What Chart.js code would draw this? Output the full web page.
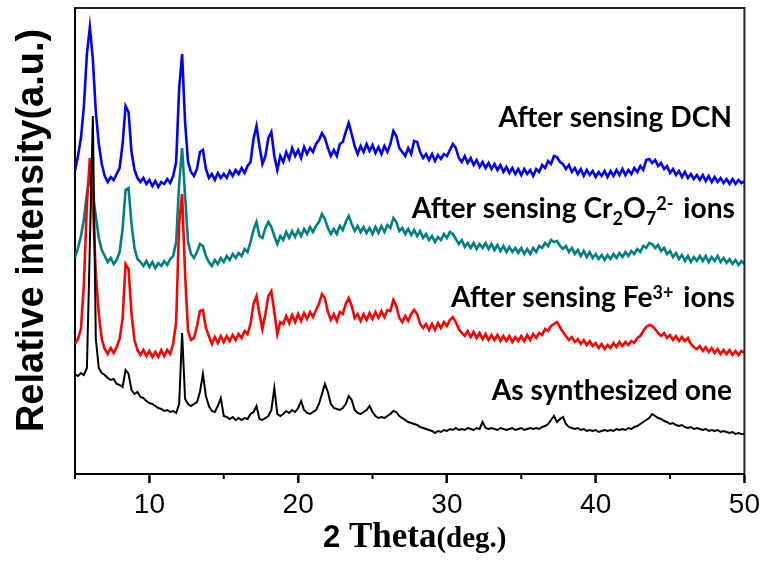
<!DOCTYPE html>
<html>
<head>
<meta charset="utf-8">
<title>XRD patterns</title>
<script src="https://cdn.jsdelivr.net/npm/chart.js@4.4.1/dist/chart.umd.min.js"></script>
<style>
  html, body { margin: 0; padding: 0; background: #fff; }
  #wrap { width: 765px; height: 564px; position: relative; }
</style>
</head>
<body>
<div id="wrap"><canvas id="xrd"></canvas></div>
<script>
// 2 theta grid (deg.)
const twoTheta = [
    5.0, 5.2, 5.4, 5.6, 5.8, 6.0, 6.2, 6.4, 6.6, 6.8,
    7.0, 7.2, 7.4, 7.6, 7.8, 8.0, 8.2, 8.4, 8.6, 8.8,
    9.0, 9.2, 9.4, 9.6, 9.8, 10.0, 10.2, 10.4, 10.6, 10.8,
    11.0, 11.2, 11.4, 11.6, 11.8, 12.0, 12.2, 12.4, 12.6, 12.8,
    13.0, 13.2, 13.4, 13.6, 13.8, 14.0, 14.2, 14.4, 14.6, 14.8,
    15.0, 15.2, 15.4, 15.6, 15.8, 16.0, 16.2, 16.4, 16.6, 16.8,
    17.0, 17.2, 17.4, 17.6, 17.8, 18.0, 18.2, 18.4, 18.6, 18.8,
    19.0, 19.2, 19.4, 19.6, 19.8, 20.0, 20.2, 20.4, 20.6, 20.8,
    21.0, 21.2, 21.4, 21.6, 21.8, 22.0, 22.2, 22.4, 22.6, 22.8,
    23.0, 23.2, 23.4, 23.6, 23.8, 24.0, 24.2, 24.4, 24.6, 24.8,
    25.0, 25.2, 25.4, 25.6, 25.8, 26.0, 26.2, 26.4, 26.6, 26.8,
    27.0, 27.2, 27.4, 27.6, 27.8, 28.0, 28.2, 28.4, 28.6, 28.8,
    29.0, 29.2, 29.4, 29.6, 29.8, 30.0, 30.2, 30.4, 30.6, 30.8,
    31.0, 31.2, 31.4, 31.6, 31.8, 32.0, 32.2, 32.4, 32.6, 32.8,
    33.0, 33.2, 33.4, 33.6, 33.8, 34.0, 34.2, 34.4, 34.6, 34.8,
    35.0, 35.2, 35.4, 35.6, 35.8, 36.0, 36.2, 36.4, 36.6, 36.8,
    37.0, 37.2, 37.4, 37.6, 37.8, 38.0, 38.2, 38.4, 38.6, 38.8,
    39.0, 39.2, 39.4, 39.6, 39.8, 40.0, 40.2, 40.4, 40.6, 40.8,
    41.0, 41.2, 41.4, 41.6, 41.8, 42.0, 42.2, 42.4, 42.6, 42.8,
    43.0, 43.2, 43.4, 43.6, 43.8, 44.0, 44.2, 44.4, 44.6, 44.8,
    45.0, 45.2, 45.4, 45.6, 45.8, 46.0, 46.2, 46.4, 46.6, 46.8,
    47.0, 47.2, 47.4, 47.6, 47.8, 48.0, 48.2, 48.4, 48.6, 48.8,
    49.0, 49.2, 49.4, 49.6, 49.8, 50.0
];

// relative intensity (a.u.), curves already offset as in the figure
const asSynthesized = [
    100, 98, 101, 99, 106, 230, 358, 135, 106, 101,
    99, 96, 94, 95, 90, 89, 87, 104, 100, 84,
    80, 82, 77, 76, 73, 71, 70, 68, 66, 65,
    63, 64, 62, 63, 61, 70, 141, 75, 70, 68,
    70, 72, 82, 100, 78, 68, 63, 62, 68, 76,
    58, 57, 55, 57, 54, 56, 54, 56, 55, 60,
    62, 68, 55, 54, 56, 58, 64, 86, 60, 58,
    60, 63, 61, 64, 62, 66, 73, 64, 61, 60,
    62, 64, 70, 80, 90, 82, 70, 66, 65, 64,
    66, 70, 78, 74, 64, 61, 60, 62, 64, 68,
    62, 58, 56, 57, 56, 58, 60, 63, 62, 58,
    56, 54, 52, 51, 50, 49, 47, 46, 45, 44,
    43, 41, 43, 42, 44, 43, 45, 44, 46, 44,
    45, 44, 46, 45, 44, 46, 45, 52, 46, 45,
    46, 45, 44, 46, 45, 44, 45, 46, 44, 45,
    46, 44, 45, 46, 45, 46, 45, 47, 48, 50,
    54, 58, 52, 55, 57, 50, 47, 46, 45, 46,
    44, 45, 43, 44, 43, 44, 42, 43, 44, 43,
    44, 43, 45, 44, 45, 44, 46, 45, 47, 48,
    50, 52, 54, 56, 60, 58, 56, 55, 53, 52,
    50, 51, 49, 48, 49, 47, 46, 47, 45, 46,
    45, 44, 45, 43, 44, 43, 44, 42, 43, 42,
    41, 42, 40, 41, 40, 40
];

const afterFe = [
    130, 135, 145, 190, 270, 316, 270, 200, 160, 135,
    125, 120, 126, 121, 127, 135, 155, 210, 205, 160,
    134, 124, 119, 124, 118, 123, 117, 122, 117, 124,
    118, 124, 120, 130, 152, 250, 280, 200, 143, 134,
    136, 148, 163, 164, 146, 138, 130, 137, 131, 138,
    132, 138, 133, 139, 134, 140, 136, 143, 140, 150,
    170, 178, 160, 145, 160, 178, 183, 162, 140, 152,
    150, 158, 151, 159, 152, 160, 153, 161, 155, 162,
    157, 164, 170, 180, 176, 162, 154, 160, 153, 162,
    160, 170, 176, 168, 156, 160, 153, 160, 154, 161,
    155, 162, 156, 163, 157, 164, 163, 174, 168, 156,
    152, 158, 153, 160, 164, 160, 150, 146, 150, 144,
    150, 144, 151, 146, 152, 148, 154, 157, 152, 145,
    141, 138, 143, 137, 142, 136, 141, 135, 140, 134,
    139, 134, 139, 133, 138, 133, 138, 132, 137, 133,
    138, 133, 139, 134, 140, 136, 141, 139, 145, 143,
    148, 150, 152, 147, 142, 138, 134, 137, 132, 135,
    130, 134, 129, 133, 128, 131, 126, 130, 125, 129,
    126, 131, 127, 132, 128, 132, 129, 133, 131, 136,
    138, 143, 147, 149, 148, 145, 141, 138, 141, 136,
    139, 134, 138, 133, 137, 133, 136, 130, 127, 125,
    128, 123, 127, 122, 126, 121, 125, 120, 124, 120,
    124, 119, 123, 119, 123, 121
];

const afterCr = [
    216, 226, 238, 255, 280, 298, 280, 258, 236, 224,
    218, 212, 216, 210, 214, 222, 245, 284, 286, 250,
    226, 215, 212, 208, 213, 207, 212, 206, 211, 208,
    213, 209, 215, 218, 232, 290, 326, 278, 232, 220,
    216, 222, 230, 228, 218, 212, 208, 214, 210, 216,
    212, 218, 214, 220, 216, 221, 218, 225, 222, 232,
    244, 252, 238, 236, 246, 252, 247, 238, 230, 238,
    234, 242, 236, 243, 237, 244, 238, 245, 240, 247,
    242, 248, 252, 260, 255, 246, 240, 245, 240, 248,
    244, 252, 258, 250, 243, 248, 242, 247, 241, 246,
    240, 247, 241, 248, 242, 249, 246, 256, 252, 243,
    246, 240, 245, 239, 244, 238, 243, 236, 240, 234,
    238, 232, 237, 234, 240, 236, 242, 240, 235, 230,
    234, 227, 231, 226, 231, 225, 230, 226, 231, 225,
    230, 224, 229, 223, 228, 222, 227, 222, 226, 221,
    226, 220, 225, 220, 226, 222, 228, 226, 231, 228,
    234, 232, 233, 228, 225, 228, 222, 226, 220, 224,
    218, 223, 217, 222, 216, 220, 215, 219, 214, 219,
    215, 220, 216, 221, 217, 222, 218, 223, 220, 225,
    222, 228, 226, 231, 230, 226, 229, 223, 226, 220,
    223, 217, 221, 215, 219, 213, 218, 212, 217, 213,
    218, 213, 218, 212, 217, 213, 218, 212, 216, 211,
    215, 210, 214, 209, 213, 210
];

const afterDCN = [
    303, 318, 336, 368, 420, 447, 415, 362, 330, 310,
    298, 292, 297, 294, 300, 306, 330, 368, 362, 322,
    304, 296, 292, 296, 290, 294, 288, 293, 287, 292,
    290, 295, 291, 298, 312, 385, 420, 352, 312, 302,
    298, 305, 322, 324, 305, 296, 300, 294, 301, 296,
    300, 296, 303, 298, 304, 300, 306, 301, 308, 312,
    335, 348, 328, 310, 318, 336, 342, 318, 304, 318,
    312, 322, 315, 326, 318, 324, 316, 327, 320, 326,
    322, 330, 334, 341, 336, 326, 318, 324, 318, 330,
    332, 342, 351, 340, 328, 320, 328, 322, 330, 323,
    329, 321, 327, 320, 328, 322, 330, 343, 338, 326,
    322, 318, 326, 320, 333, 332, 322, 316, 320, 314,
    320, 313, 319, 315, 320, 318, 324, 330, 326, 316,
    312, 318, 311, 316, 309, 314, 307, 312, 306, 311,
    305, 310, 304, 309, 302, 307, 301, 306, 300, 305,
    299, 305, 300, 304, 298, 305, 302, 309, 306, 313,
    310, 318, 317, 312, 310, 305, 309, 302, 306, 300,
    305, 298, 304, 299, 303, 297, 302, 298, 303, 297,
    303, 298, 304, 299, 305, 299, 304, 300, 306, 302,
    308, 304, 314, 315, 311, 314, 308, 311, 305, 308,
    301, 305, 299, 303, 297, 302, 296, 300, 295, 299,
    294, 299, 293, 298, 292, 297, 292, 296, 291, 295,
    290, 295, 290, 294, 291, 293
];

const seriesNames = ['As synthesized one', 'After sensing Fe\u00b3\u207a ions',
    'After sensing Cr\u2082O\u2087\u00b2\u207b ions', 'After sensing DCN'];
const seriesColors = ['#000000', '#ff0000', '#008080', '#0000ff'];

// curve labels with sub/superscripts: [text, 'sub' | 'sup' | '']
const curveLabels = [
    [['As synthesized one', '']],
    [['After sensing Fe', ''], ['3+', 'sup'], [' ions', '']],
    [['After sensing Cr', ''], ['2', 'sub'], ['O', ''], ['7', 'sub'], ['2-', 'sup'], [' ions', '']],
    [['After sensing DCN', '']]
];

const xMajorTicks = [10, 20, 30, 40, 50];
const xMinorTicks = [5, 15, 25, 35, 45];

function pairs(ys) {
    return twoTheta.map((t, i) => ({x: t, y: ys[i]}));
}

const labelBaselines = [400, 307, 218, 127];

const annotate = {
    id: 'annotate',
    afterDraw(chart) {
        const ctx = chart.ctx;
        const area = chart.chartArea;
        const xs = chart.scales.x;
        ctx.save();

        // top and right side of the frame
        ctx.strokeStyle = '#222';
        ctx.lineWidth = 2;
        ctx.beginPath();
        ctx.moveTo(area.left, area.top);
        ctx.lineTo(area.right, area.top);
        ctx.lineTo(area.right, area.bottom);
        ctx.stroke();

        // major ticks long, minor ticks short
        ctx.strokeStyle = '#000';
        xMajorTicks.forEach(v => {
            const px = xs.getPixelForValue(v);
            ctx.beginPath();
            ctx.moveTo(px, area.bottom);
            ctx.lineTo(px, area.bottom + 9);
            ctx.stroke();
        });
        xMinorTicks.forEach(v => {
            const px = xs.getPixelForValue(v);
            ctx.beginPath();
            ctx.moveTo(px, area.bottom);
            ctx.lineTo(px, area.bottom + 5);
            ctx.stroke();
        });

        // curve labels, sized so the top one spans like the original
        ctx.fillStyle = '#000';
        ctx.textBaseline = 'alphabetic';
        ctx.textAlign = 'left';
        ctx.font = 'bold 26px Lato';
        const size = 26 * 234 / ctx.measureText('After sensing DCN').width;
        const big = 'bold ' + size.toFixed(1) + 'px Lato';
        const small = 'bold ' + (size * 0.64).toFixed(1) + 'px Lato';
        curveLabels.forEach((parts, k) => {
            let total = 0;
            parts.forEach(p => {
                ctx.font = p[1] ? small : big;
                total += ctx.measureText(p[0]).width;
            });
            let x = 732 - total;
            const base = labelBaselines[k];
            parts.forEach(p => {
                ctx.font = p[1] ? small : big;
                let y = base;
                if (p[1] === 'sub') y += 7;
                if (p[1] === 'sup') y -= 8;
                ctx.fillText(p[0], x, y);
                x += ctx.measureText(p[0]).width + (p[1] === 'sup' ? 3 : 0);
            });
        });

        // x axis title: 2 Theta(deg.)
        const title = [
            ['2', 'bold 31px "Liberation Sans"'],
            [' Theta', 'bold 35px "Liberation Serif"'],
            ['(deg.)', 'bold 29px "Liberation Serif"']
        ];
        let w = 0;
        title.forEach(p => { ctx.font = p[1]; w += ctx.measureText(p[0]).width; });
        let tx = (area.left + area.right) / 2 + 5 - w / 2;
        title.forEach(p => {
            ctx.font = p[1];
            ctx.fillText(p[0], tx, 547);
            tx += ctx.measureText(p[0]).width;
        });
        ctx.restore();
    }
};

const datasets = [asSynthesized, afterFe, afterCr, afterDCN].map((ys, i) => ({
    label: seriesNames[i],
    data: pairs(ys),
    borderColor: seriesColors[i],
    backgroundColor: seriesColors[i],
    borderWidth: i === 0 ? 2 : 2.6,
    pointRadius: 0,
    tension: 0,
    fill: false
}));

new Chart(document.getElementById('xrd'), {
    type: 'line',
    data: {datasets: datasets},
    options: {
        responsive: true,
        maintainAspectRatio: false,
        animation: false,
        layout: {padding: {top: 8, right: 19, left: 0, bottom: 0}},
        plugins: {
            legend: {display: false},
            tooltip: {enabled: false}
        },
        scales: {
            x: {
                type: 'linear',
                min: 5,
                max: 50,
                afterFit: (scale) => { scale.height = 90; },
                afterBuildTicks: (scale) => {
                    scale.ticks = xMajorTicks.map(v => ({value: v}));
                },
                ticks: {
                    autoSkip: false,
                    maxRotation: 0,
                    padding: 5,
                    color: '#000',
                    font: {family: 'Liberation Sans', size: 28}
                },
                grid: {
                    display: true,
                    drawOnChartArea: false,
                    drawTicks: true,
                    tickLength: 9,
                    tickWidth: 2,
                    tickColor: '#000'
                },
                border: {display: true, color: '#000', width: 2}
            },
            y: {
                min: 0,
                max: 466,
                afterFit: (scale) => { scale.width = 75; },
                ticks: {display: false},
                grid: {display: false, drawTicks: false},
                border: {display: true, color: '#000', width: 2},
                title: {
                    display: true,
                    text: '  Relative intensity(a.u.)',
                    color: '#000',
                    padding: {top: 10, bottom: 0},
                    font: {family: 'Liberation Sans', size: 38, weight: 'bold'}
                }
            }
        }
    },
    plugins: [annotate]
});
</script>
</body>
</html>
